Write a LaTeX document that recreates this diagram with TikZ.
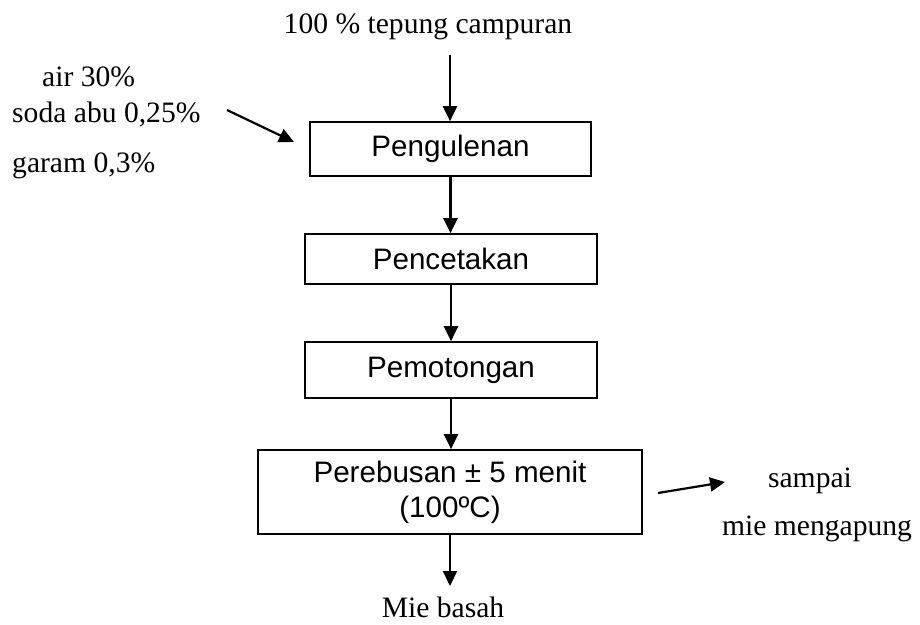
\documentclass[tikz,border=0pt]{standalone}
\usepackage{fontspec}
\setmainfont{Liberation Serif}
\newfontfamily\arialf{Liberation Sans}
\usetikzlibrary{arrows.meta}
\begin{document}
\begin{tikzpicture}[x=1pt,y=-1pt,
  box/.style={draw, line width=1.7pt, inner sep=0pt, align=center,
    font=\arialf\fontsize{29.6}{35}\selectfont},
  lbl/.style={inner sep=0pt, font=\fontsize{29.6}{35}\selectfont},
  arr/.style={line width=2.2pt, -{Triangle[length=15pt,width=14pt]}}]
\useasboundingbox (0,0) rectangle (920,624);
% boxes
\node[box, minimum width=281, minimum height=54] (b1) at (450.5,149) {Pengulenan};
\node[box, minimum width=292, minimum height=50] (b2) at (451,259) {Pencetakan};
\node[box, minimum width=292, minimum height=56] (b3) at (451,370) {Pemotongan};
\node[box, minimum width=384, minimum height=84] (b4) at (450,492) {Perebusan ± 5 menit\\(100ºC)};
% labels
\node[lbl, anchor=base] (top) at (428,33) {100 \% tepung campuran};
\node[lbl, anchor=base west] (air) at (42,86) {air 30\%};
\node[lbl, anchor=base west] (soda) at (12,122) {soda abu 0,25\%};
\node[lbl, anchor=base west] (garam) at (12,172) {garam 0,3\%};
\node[lbl, anchor=base] (sampai) at (810,487) {sampai};
\node[lbl, anchor=base] (apung) at (817,535) {mie mengapung};
\node[lbl, anchor=base] (mie) at (443,617) {Mie basah};
% free ends
\coordinate (t0) at (450,55);
\coordinate (d0) at (227,110);
\coordinate (d1) at (294,142);
\coordinate (r0) at (658,493);
\coordinate (r1) at (725,482);
\coordinate (e1) at (450,586);
% arrows
\draw[arr] (t0) -- (t0 |- b1.north);
\draw[arr] (d0) -- (d1);
\draw[arr] (b1.south) -- (b1.south |- b2.north);
\draw[arr] (b2.south) -- (b2.south |- b3.north);
\draw[arr] (b3.south) -- (b3.south |- b4.north);
\draw[arr] (b4.south) -- (e1);
\draw[arr] (r0) -- (r1);
\end{tikzpicture}
\end{document}
